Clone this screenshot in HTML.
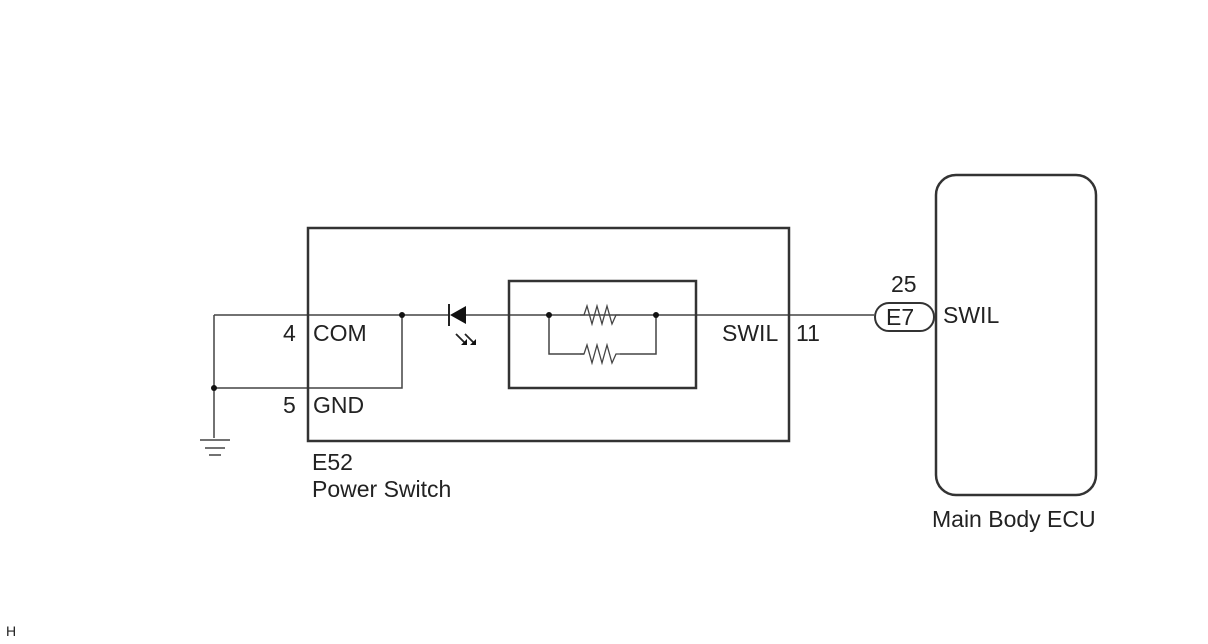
<!DOCTYPE html>
<html><head><style>body{margin:0;background:#fff}svg{display:block}text{font-family:"Liberation Sans",sans-serif;fill:#222}</style></head><body>
<svg width="1208" height="644" viewBox="0 0 1208 644">
<g fill="none" stroke="#444" stroke-width="1.5">
<path d="M214 315H450M466 315H874M214 315V438M214 388H402V315M549 315V354H584M620 354H656V315"/>
<path d="M580 315h4l3-9 5 18 5-18 5 18 5-18 5 18 4-9h4" stroke-width="1.3"/>
<path d="M580 354h4l3-9 5 18 5-18 5 18 5-18 5 18 4-9h4" stroke-width="1.3"/>
<path d="M200 440H230M205 448H225M209 455H221" stroke-width="1.5"/>
</g>
<g fill="none" stroke="#333" stroke-width="2.5">
<rect x="308" y="228" width="481" height="213"/>
<rect x="509" y="281" width="187" height="107"/>
<rect x="936" y="175" width="160" height="320" rx="20"/>
<rect x="875" y="303" width="59" height="28" rx="14" stroke-width="2"/>
</g>
<polygon points="450,315 466,306 466,324" fill="#111"/>
<line x1="449" y1="304" x2="449" y2="326" stroke="#222" stroke-width="2"/>
<g stroke="#222" stroke-width="1.8"><path d="M456 334l9 9M465 334l9 9"/></g>
<g fill="#111"><path d="M467 345l-6 0 6-6z"/><path d="M476 345l-6 0 6-6z"/>
<circle cx="402" cy="315" r="3"/><circle cx="214" cy="388" r="3"/><circle cx="549" cy="315" r="3"/><circle cx="656" cy="315" r="3"/></g>
<g font-size="23">
<text x="283" y="341">4</text><text x="313" y="341">COM</text>
<text x="283" y="413">5</text><text x="313" y="413">GND</text>
<text x="312" y="470">E52</text><text x="312" y="497">Power Switch</text>
<text x="722" y="341">SWIL</text><text x="796" y="341">11</text>
<text x="891" y="292">25</text><text x="886" y="325">E7</text>
<text x="943" y="323">SWIL</text>
<text x="932" y="527">Main Body ECU</text>
<text x="6" y="636" font-size="14">H</text>
</g>
</svg></body></html>
